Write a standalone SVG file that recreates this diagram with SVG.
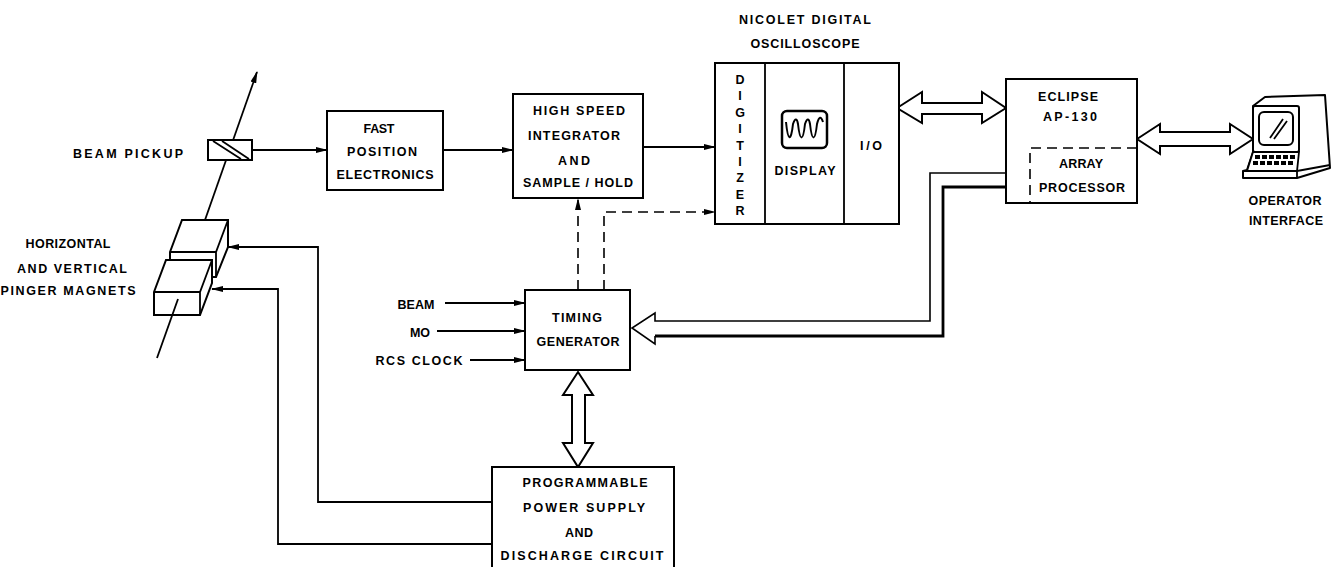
<svg xmlns="http://www.w3.org/2000/svg" width="1332" height="567" viewBox="0 0 1332 567">
<style>
.bx{fill:#fff;stroke:#000;stroke-width:2}
.ln{fill:none;stroke:#000;stroke-width:1.8}
.dl{fill:none;stroke:#000;stroke-width:1.6;stroke-dasharray:10 6}
.ha{fill:#fff;stroke:#000;stroke-width:2;stroke-linejoin:miter}
text{font-family:"Liberation Sans","DejaVu Sans",Arial,sans-serif;font-size:12.5px;font-weight:bold;fill:#000;text-anchor:middle}
</style>
<defs>
<marker id="ah" markerWidth="12" markerHeight="8" refX="11" refY="4" orient="auto" markerUnits="userSpaceOnUse"><path d="M0,1 L12,4 L0,7 z" fill="#000"/></marker>
</defs>
<rect width="1332" height="567" fill="#fff"/>

<g id="connectors">
<path class="ln" d="M252,150 H327" marker-end="url(#ah)"/>
<path class="ln" d="M443,150 H513" marker-end="url(#ah)"/>
<path class="ln" d="M643,147 H715" marker-end="url(#ah)"/>
<path class="dl" d="M578,290 V199" marker-end="url(#ah)"/>
<path class="dl" d="M604,290 V212 H715" marker-end="url(#ah)"/>
<path class="ln" d="M445,303 H525" marker-end="url(#ah)"/>
<path class="ln" d="M437,331 H525" marker-end="url(#ah)"/>
<path class="ln" d="M470,360 H525" marker-end="url(#ah)"/>
<path class="ln" d="M492,502 H318 V247 H228" marker-end="url(#ah)"/>
<path class="ln" d="M492,544 H278 V289 H212" marker-end="url(#ah)"/>
<path class="ha" d="M897,108 L922,92 V103 H982 V92 L1006,108 L982,123 V114 H922 V123 Z"/>
<path class="ha" d="M1137,139 L1160,124 V132 H1230 V124 L1253,139 L1230,154 V146 H1160 V154 Z"/>
<path class="ha" d="M578,372 L593,395 H585 V443 H593 L578,467 L563,443 H572 V395 H563 Z"/>
<path fill="none" stroke="#000" stroke-width="1.6" d="M1006,173 H930 V321 H655 V313 L632,328 L655,344 V336"/>
<path fill="none" stroke="#000" stroke-width="2.8" d="M655,336 H943 V187 H1006"/>
</g>

<g id="beam-line">
<path class="ln" d="M205,220 L257,72" marker-end="url(#ah)"/>
</g>

<g id="beam-pickup">
<rect class="bx" x="208" y="140" width="44" height="20" stroke-width="1.8"/>
<path class="ln" d="M213,141 L241,159 M222,141 L249,159"/>
<text x="128" y="158" textLength="110">BEAM PICKUP</text>
</g>

<g id="pinger-magnets">
<path class="bx" d="M170,252 L182,220 H228 V247 L216,277 H170 Z"/>
<path class="ln" d="M170,252 H216 L228,220 M216,252 V277"/>
<path class="bx" d="M154,292 L166,260 H212 V283 L200,315 H154 Z"/>
<path class="ln" d="M154,292 H200 L212,260 M200,292 V315"/>
<path class="ln" d="M157,358 L178,299"/>
<text x="68" y="248" textLength="85">HORIZONTAL</text>
<text x="72" y="273" textLength="110">AND VERTICAL</text>
<text x="68" y="295" textLength="135">PINGER MAGNETS</text>
</g>

<g id="fast-position-electronics">
<rect class="bx" x="327" y="111" width="116" height="79"/>
<text x="379" y="133" textLength="31">FAST</text>
<text x="382" y="156" textLength="70">POSITION</text>
<text x="385" y="179" textLength="97">ELECTRONICS</text>
</g>

<g id="integrator">
<rect class="bx" x="513" y="94" width="130" height="104"/>
<text x="579" y="115" textLength="92">HIGH SPEED</text>
<text x="574" y="140" textLength="92">INTEGRATOR</text>
<text x="574" y="165" textLength="32">AND</text>
<text x="578" y="187" textLength="110">SAMPLE / HOLD</text>
</g>

<g id="oscilloscope">
<text x="805" y="24" textLength="132">NICOLET DIGITAL</text>
<text x="805" y="48" textLength="109">OSCILLOSCOPE</text>
<rect class="bx" x="715" y="63" width="184" height="161"/>
<path class="ln" d="M765,63 V224 M844,63 V224"/>
<text x="740" y="84">D<tspan x="740" dy="16.4">I</tspan><tspan x="740" dy="16.4">G</tspan><tspan x="740" dy="16.4">I</tspan><tspan x="740" dy="16.4">T</tspan><tspan x="740" dy="16.4">I</tspan><tspan x="740" dy="16.4">Z</tspan><tspan x="740" dy="16.4">E</tspan><tspan x="740" dy="16.4">R</tspan></text>
<rect x="782" y="111" width="45" height="37" rx="5" fill="none" stroke="#000" stroke-width="2.5"/>
<path fill="none" stroke="#000" stroke-width="2" d="M786,122 C788,142 791,142 793,124 C795,118 797,118 798,124 C800,142 803,142 805,124 C807,118 809,118 810,124 C812,142 815,142 817,124 C819,116 821,116 823,122"/>
<text x="805" y="175" textLength="61">DISPLAY</text>
<text x="871" y="150" textLength="22">I/O</text>
</g>

<g id="eclipse">
<rect class="bx" x="1006" y="79" width="131" height="124"/>
<path class="dl" d="M1137,148 H1030 V203"/>
<text x="1068" y="101" textLength="60">ECLIPSE</text>
<text x="1070" y="121" textLength="54">AP-130</text>
<text x="1081" y="168" textLength="44">ARRAY</text>
<text x="1082" y="192" textLength="86">PROCESSOR</text>
</g>

<g id="operator-interface">
<path fill="#fff" stroke="#000" stroke-width="2" stroke-linejoin="round" d="M1253,106 L1265,97 L1325,95 L1330,168 L1297,178 H1243 V171 L1247,170 L1253,152 Z"/>
<rect x="1253" y="106" width="46" height="46" rx="2" fill="#fff" stroke="#000" stroke-width="2"/>
<rect x="1259" y="112" width="34" height="33" rx="5" fill="none" stroke="#000" stroke-width="2"/>
<path class="ln" d="M1270,138 L1283,119 M1274,139 L1287,121" stroke-width="1.4"/>
<path fill="#fff" stroke="#000" stroke-width="1.8" d="M1253,152 H1299 L1297,171 H1247 Z"/>
<path fill="none" stroke="#000" stroke-width="1.8" d="M1243,171 H1297 V178 M1297,171 L1330,165"/>
<g fill="#000">
<rect x="1255" y="155" width="5" height="4"/><rect x="1262" y="155" width="5" height="4"/><rect x="1269" y="155" width="5" height="4"/><rect x="1276" y="155" width="5" height="4"/><rect x="1283" y="155" width="5" height="4"/><rect x="1290" y="155" width="5" height="4"/>
<rect x="1253" y="161" width="5" height="4"/><rect x="1260" y="161" width="5" height="4"/><rect x="1267" y="161" width="5" height="4"/><rect x="1274" y="161" width="5" height="4"/><rect x="1281" y="161" width="5" height="4"/><rect x="1288" y="161" width="5" height="4"/>
</g>
<text x="1285" y="205" textLength="73">OPERATOR</text>
<text x="1286" y="225" textLength="74">INTERFACE</text>
</g>

<g id="timing-generator">
<rect class="bx" x="525" y="290" width="105" height="80"/>
<text x="577" y="322" textLength="50">TIMING</text>
<text x="578" y="346" textLength="83">GENERATOR</text>
<text x="416" y="309" textLength="37">BEAM</text>
<text x="420" y="337" textLength="20">MO</text>
<text x="419" y="365" textLength="87">RCS CLOCK</text>
</g>

<g id="power-supply">
<rect class="bx" x="492" y="467" width="182" height="110"/>
<text x="585" y="487" textLength="125">PROGRAMMABLE</text>
<text x="584" y="512" textLength="122">POWER SUPPLY</text>
<text x="579" y="537" textLength="28">AND</text>
<text x="582" y="560" textLength="163">DISCHARGE CIRCUIT</text>
</g>
</svg>
